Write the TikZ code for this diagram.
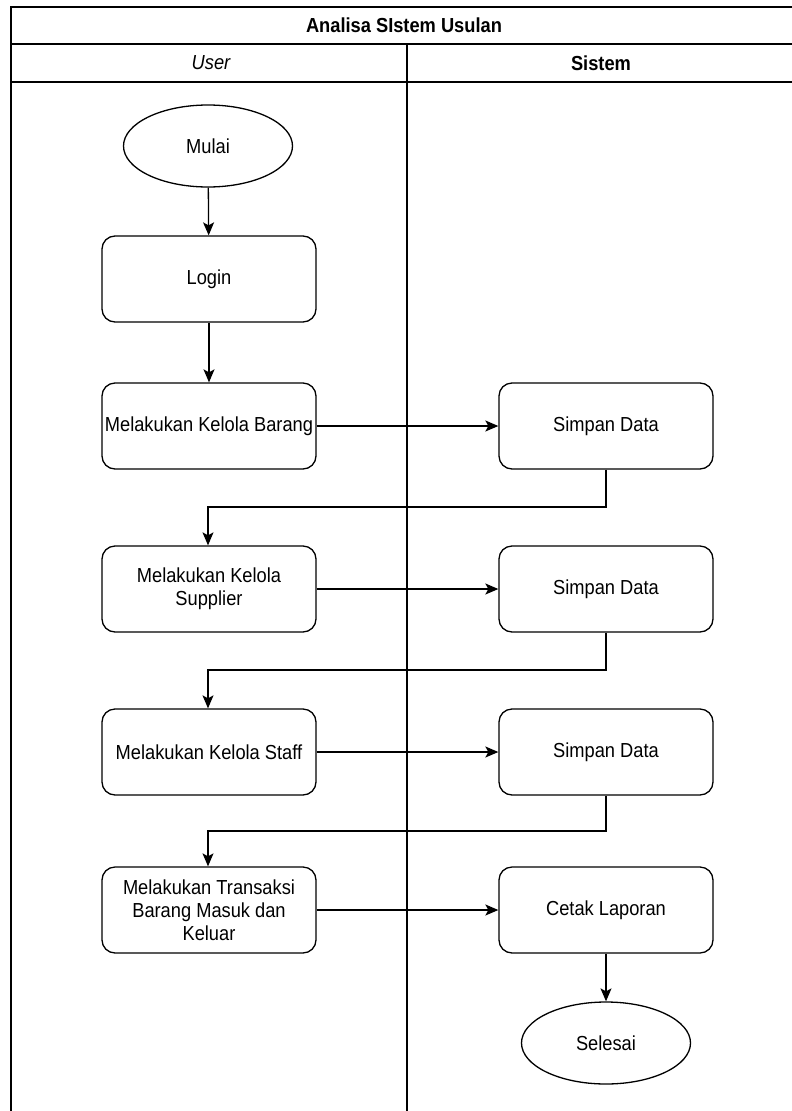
\documentclass[tikz,border=0pt]{standalone}
\usepackage{fontspec}
\setmainfont[FakeStretch=0.9]{Liberation Sans}
\usetikzlibrary{shapes.geometric,arrows.meta}
\newcommand\diafont{\fontsize{20.3}{23}\selectfont}
\begin{document}
\begin{tikzpicture}[x=1pt,y=-1pt,
  frameline/.style={line width=1.4pt},
  proc/.style={draw, line width=1.3pt, rounded corners=13pt, minimum width=214pt, minimum height=86pt, align=center, inner sep=1pt, font=\diafont},
  term/.style={draw, ellipse, line width=1.3pt, minimum width=169pt, minimum height=82pt, inner sep=1pt, font=\diafont},
  lbl/.style={font=\diafont, inner sep=1pt},
  arr/.style={line width=1.3pt, -{Stealth[length=13pt,width=11pt,inset=3pt]}}]
\useasboundingbox (0,0) rectangle (792,1111);
\clip (0,0) rectangle (792,1111);
% swimlane frame
\draw[frameline] (11,1116) -- (11,7) -- (797,7) -- (797,1116);
\draw[frameline] (11,44) -- (797,44);
\draw[frameline] (11,82) -- (797,82);
\draw[frameline] (407,44) -- (407,1116);
\node[lbl] (title) at (404,25.5) {\bfseries Analisa SIstem Usulan};
\node[lbl] (user) at (211,63) {\itshape User};
\node[lbl] (sistem) at (601,63) {\bfseries Sistem};
% nodes
\node[term] (mulai) at (208,146) {Mulai};
\node[proc] (login) at (209,279) {Login};
\node[proc] (barang) at (209,426) {Melakukan Kelola Barang};
\node[proc] (simpan1) at (606,426) {Simpan Data};
\node[proc] (supplier) at (209,589) {Melakukan Kelola\\Supplier};
\node[proc] (simpan2) at (606,589) {Simpan Data};
\node[proc] (staff) at (209,752) {Melakukan Kelola Staff};
\node[proc] (simpan3) at (606,752) {Simpan Data};
\node[proc] (transaksi) at (209,910) {Melakukan Transaksi\\Barang Masuk dan\\Keluar};
\node[proc] (cetak) at (606,910) {Cetak Laporan};
\node[term] (selesai) at (606,1043) {Selesai};
% connectors
\draw[arr] (mulai) -- (login);
\draw[arr] (login) -- (barang);
\draw[arr] (barang) -- (simpan1);
\draw[arr] (simpan1.south) |- (208,507) -- (supplier.north -| 208,0);
\draw[arr] (supplier) -- (simpan2);
\draw[arr] (simpan2.south) |- (208,670) -- (staff.north -| 208,0);
\draw[arr] (staff) -- (simpan3);
\draw[arr] (simpan3.south) |- (208,831) -- (transaksi.north -| 208,0);
\draw[arr] (transaksi) -- (cetak);
\draw[arr] (cetak) -- (selesai);
\end{tikzpicture}
\end{document}
